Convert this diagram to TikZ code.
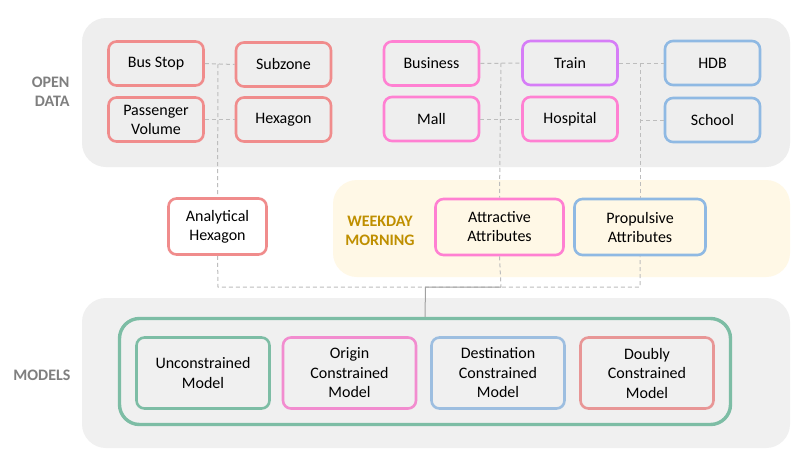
\documentclass[tikz,border=0pt]{standalone}
\usepackage{fontspec}
\setmainfont{Carlito}
\begin{document}
\begin{tikzpicture}[x=1pt,y=-1pt]
\definecolor{panelgray}{HTML}{EEEEEE}
\definecolor{panelgrayb}{HTML}{F0F0F0}
\definecolor{cream}{HTML}{FFF8E6}
\definecolor{cred}{HTML}{F08C8C}
\definecolor{cpink}{HTML}{FF80D2}
\definecolor{cpinkb}{HTML}{F28CCF}
\definecolor{cpurple}{HTML}{D67DF7}
\definecolor{cblue}{HTML}{8FB9E3}
\definecolor{cblueb}{HTML}{9DBEE0}
\definecolor{credb}{HTML}{E89696}
\definecolor{cgreen}{HTML}{7DBDA5}
\definecolor{cgold}{HTML}{BF8F00}
\definecolor{labgray}{HTML}{7F7F7F}
\definecolor{linegray}{HTML}{BDBDBD}
\tikzset{
  panel/.style={rounded corners=24pt, draw=none},
  rbox/.style={draw, line width=2.6pt, rounded corners=8pt, align=center,
     font=\fontsize{16}{19}\selectfont, inner sep=0pt, text=black},
  small/.style={rbox, minimum width=95pt, minimum height=44pt},
  mid/.style={rbox, minimum height=56pt},
  model/.style={rbox, minimum width=133pt, minimum height=71pt,
     fill=panelgrayb, font=\fontsize{16}{19.5}\selectfont},
  seclabel/.style={font=\fontsize{16}{19.5}\selectfont\bfseries, text=labgray, align=right},
  dash line/.style={draw=linegray, line width=1pt, dash pattern=on 4pt off 3pt},
  solid line/.style={draw=linegray!85!black, line width=1pt},
}
\useasboundingbox (0,0) rectangle (811,458);
\fill[white] (0,0) rectangle (811,458);
% panels
\fill[panelgray, panel] (82,18) rectangle (790,167);
\fill[cream, panel] (333,180) rectangle (790,277);
\fill[panelgrayb, panel] (82,298) rectangle (790,448);

% section labels
\node[seclabel, anchor=east] (lopen) at (73,92) {OPEN\\DATA};
\node[seclabel, anchor=east] (lmod) at (74,375) {MODELS};
\node[font=\fontsize{16}{19.5}\selectfont\bfseries, text=cgold, align=center] (lweek) at (380,231) {WEEKDAY\\MORNING};

% nodes
\node[small, draw=cred, fill=panelgray] (bus) at (156,63.5) {Bus Stop};
\node[small, draw=cred, fill=panelgray] (subzone) at (283.5,64.5) {Subzone};
\node[small, draw=cred, fill=panelgray] (pass) at (156,119.5) {Passenger\\Volume};
\node[small, draw=cred, fill=panelgray] (hex) at (283.5,119.5) {Hexagon};
\node[small, draw=cpink, fill=panelgray] (business) at (431.5,63.5) {Business};
\node[small, draw=cpurple, fill=panelgray] (train) at (570,63) {Train};
\node[small, draw=cblue, fill=panelgray] (hdb) at (712.5,63) {HDB};
\node[small, draw=cpink, fill=panelgray] (mall) at (431.5,119) {Mall};
\node[small, draw=cpink, fill=panelgray] (hosp) at (570,119) {Hospital};
\node[small, draw=cblue, fill=panelgray] (school) at (712.5,120) {School};

\node[mid, draw=cred, fill=white, minimum width=98pt] (ahex) at (217.5,226.5) {Analytical\\Hexagon};
\node[mid, draw=cpink, fill=cream, minimum width=128pt] (attr) at (499.5,227) {Attractive\\Attributes};
\node[mid, draw=cblue, fill=cream, minimum width=131pt] (prop) at (640,227) {Propulsive\\Attributes};

\node[rbox, draw=cgreen, line width=3.4pt, rounded corners=20pt, minimum width=611pt, minimum height=106pt] (models) at (425,371.5) {};
\node[model, draw=cgreen] (uncon) at (203,373) {Unconstrained\\Model};
\node[model, draw=cpinkb] (orig) at (349.5,373) {Origin\\Constrained\\Model};
\node[model, draw=cblueb] (dest) at (498,373) {Destination\\Constrained\\Model};
\node[model, draw=credb] (doub) at (647,373) {Doubly\\Constrained\\Model};

% junction coordinates
\coordinate (j1) at (218,64);
\coordinate (j2) at (501,63);
\coordinate (j3) at (640,63);
\coordinate (b1) at (218,287);
\coordinate (b2) at (640,287);
\coordinate (b3) at (501,287);
\coordinate (b4) at (425.5,287);

% connectors
\path[dash line] (bus.east) -- (subzone.west);
\path[dash line] (j1) -- (ahex.north);
\path[dash line] (pass.east) -- (hex.west);
\path[dash line] (business.east) -- (train.west);
\path[dash line] (j2) -- (attr.north);
\path[dash line] (mall.east) -- (hosp.west);
\path[dash line] (train.east) -- (hdb.west);
\path[dash line] (j3) -- (prop.north);
\path[dash line] (school.west) -- (j3 |- school.west);
\path[dash line] (ahex.south) -- (b1) -- (b2) -- (prop.south);
\path[dash line] (attr.south) -- (b3);
\path[solid line] (b3) -- (b4) -- (models.north);
\end{tikzpicture}
\end{document}
